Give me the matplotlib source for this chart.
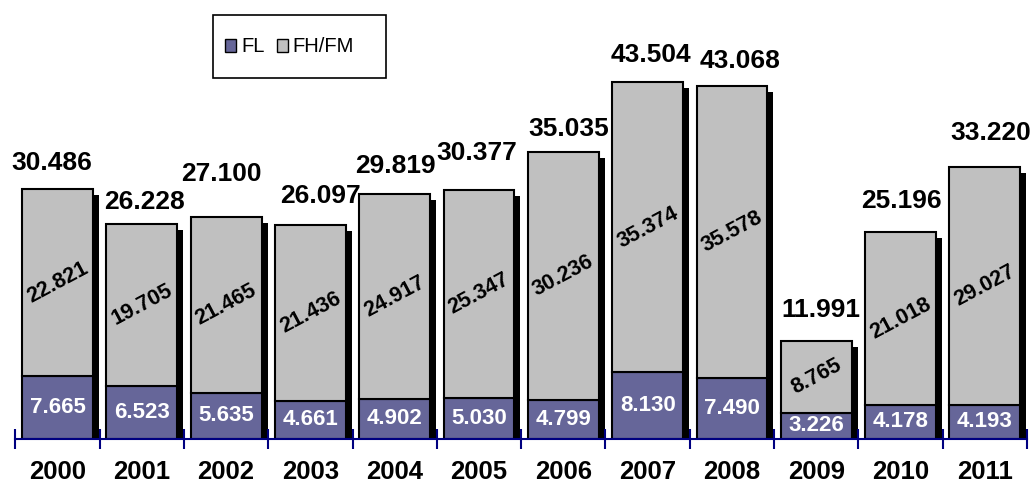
#%% librerias
import numpy as np
import matplotlib.pyplot as plt
from matplotlib import transforms
from matplotlib.patches import Rectangle, Patch

plt.rcParams['font.family'] = ['Liberation Sans', 'DejaVu Sans']

#%% datos
anos = ['2000', '2001', '2002', '2003', '2004', '2005',
        '2006', '2007', '2008', '2009', '2010', '2011']
fl = [7.665, 6.523, 5.635, 4.661, 4.902, 5.030, 4.799, 8.130, 7.490, 3.226, 4.178, 4.193]
fh_fm = [22.821, 19.705, 21.465, 21.436, 24.917, 25.347, 30.236, 35.374, 35.578, 8.765, 21.018, 29.027]
total = [30.486, 26.228, 27.100, 26.097, 29.819, 30.377, 35.035, 43.504, 43.068, 11.991, 25.196, 33.220]

# desplazamiento (px) de las etiquetas de total respecto del tope de cada barra
dx_tot = [-6, 3, -5, 10, 1, -2, 5, 3, 8, 5, 1, 6]
dy_tot = [26, 22, 43, 29, 28, 37, 23, 27, 25, 31, 31, 34]

c_fl = '#666699'
c_fh = '#C0C0C0'
navy = '#000080'

#%% figura
fig = plt.figure(figsize=(10.35, 4.83), dpi=100)
ax = fig.add_axes([15.35/1035, 44/483, (1027-15.35)/1035, 393.6/483])
x = np.arange(len(anos))
w = 0.84

# sombra negra de cada barra
sombra = transforms.offset_copy(ax.transData, fig=fig, x=6, y=-6, units='dots')
ax.bar(x, total, w, color='black', transform=sombra, zorder=1)

ax.bar(x, fl, w, color=c_fl, edgecolor='black', lw=1.5, zorder=2, label='FL')
ax.bar(x, fh_fm, w, bottom=fl, color=c_fh, edgecolor='black', lw=1.5, zorder=2, label='FH/FM')

for i in range(len(anos)):
    ax.text(x[i], fl[i]/2, f'{fl[i]:.3f}', ha='center', va='center', color='white',
            fontsize=16, fontweight='bold', zorder=3)
    ax.text(x[i], fl[i] + fh_fm[i]/2, f'{fh_fm[i]:.3f}', ha='center', va='center',
            color='black', fontsize=15.5, fontweight='bold', rotation=28,
            rotation_mode='anchor', zorder=3)
    ax.annotate(f'{total[i]:.3f}', (x[i], total[i]), xytext=(dx_tot[i], dy_tot[i]),
                textcoords='offset pixels', ha='center', va='center',
                fontsize=19, fontweight='bold', zorder=3)

ax.set_xlim(-0.5, len(anos) - 0.5)
ax.set_ylim(0, 48)
for s in ['top', 'right', 'left']:
    ax.spines[s].set_visible(False)
ax.spines['bottom'].set_color(navy)
ax.spines['bottom'].set_linewidth(1.5)
ax.set_yticks([])
ax.set_xticks(x)
ax.set_xticklabels(anos, fontsize=18.5, fontweight='bold')
ax.tick_params(axis='x', which='major', length=0, pad=15)
ax.set_xticks(np.arange(-0.5, len(anos)), minor=True)
ax.tick_params(axis='x', which='minor', direction='inout', length=15, width=1.5, color=navy)

# leyenda
fig.patches.append(Rectangle((213/1035, 1 - 78/483), 173/1035, 63/483,
                             transform=fig.transFigure, fill=False, ec='black', lw=1.2))
handles = [Patch(fc=c_fl, ec='black'), Patch(fc=c_fh, ec='black')]
fig.legend(handles, ['FL', 'FH/FM'], loc='center left', bbox_to_anchor=(225/1035, 1 - 47/483),
           frameon=False, ncol=2, prop=dict(size=14.5), handlelength=0.55, handleheight=0.6,
           handletextpad=0.25, columnspacing=0.6, borderpad=0, borderaxespad=0)

plt.savefig('out.png', dpi=100)
